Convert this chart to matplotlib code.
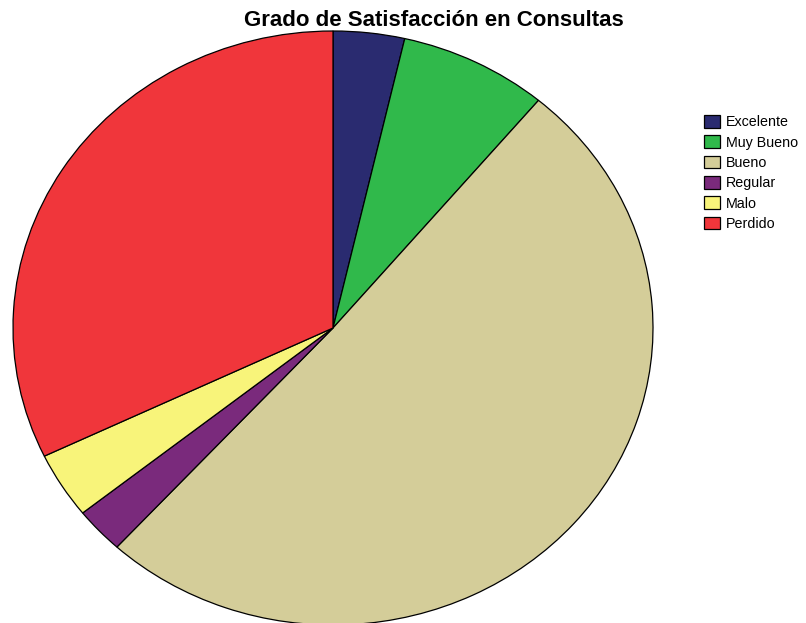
import matplotlib.pyplot as plt
from matplotlib.patches import Patch

plt.rcParams['font.family'] = ['Liberation Sans', 'DejaVu Sans']

categorias = ['Excelente', 'Muy Bueno', 'Bueno', 'Regular', 'Malo', 'Perdido']
porcentajes = [3.6, 7.5, 50.7, 2.5, 3.6, 32.1]
colores = ['#2a2b70', '#30b94b', '#d4cd99', '#7a2a7c', '#f8f47a', '#f0363b']

fig = plt.figure(figsize=(8.06, 6.23), dpi=100)
ax = fig.add_axes([13/806, -2/623, 640/806, 594/623])

ax.pie(porcentajes, colors=colores, startangle=90, counterclock=False,
       wedgeprops={'edgecolor': 'black', 'linewidth': 0.9})
ax.set_aspect('auto')
ax.set_xlim(-1, 1)
ax.set_ylim(-1, 1)

fig.suptitle('Grado de Satisfacción en Consultas', x=434/806, y=1 - 10/623,
             va='top', fontsize=16, fontweight='bold')

handles = [Patch(facecolor=c, edgecolor='black', linewidth=0.9) for c in colores]
fig.legend(handles, categorias, loc='upper left', bbox_to_anchor=(704/806, 1 - 115/623),
           frameon=False, fontsize=10.3, handlelength=1.15, handleheight=1.0,
           handletextpad=0.4, labelspacing=0.42, borderaxespad=0, borderpad=0)

fig.savefig('out.png', dpi=100)
